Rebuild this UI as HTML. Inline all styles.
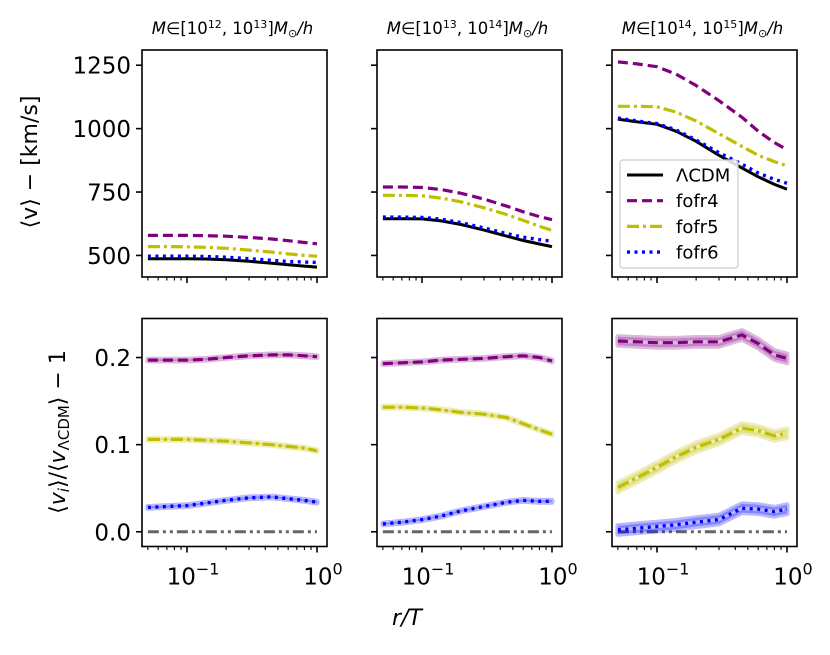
<!DOCTYPE html>
<html><head><meta charset="utf-8"><style>
body{margin:0;background:#fff;}
svg text{font-family:"DejaVu Sans","Liberation Sans",sans-serif;}
</style></head><body>
<svg id="c" width="830" height="650" viewBox="0 0 830 650" xmlns="http://www.w3.org/2000/svg"></svg>
<script>
const xs=[0.05,0.07,0.1,0.14,0.2,0.3,0.45,0.6,0.8,1.0];
const seriesNames=["LCDM","fofr4","fofr5","fofr6"];
const topLCDM=[[487,487,487,486,483,477,469,463,458,454],[645,645,644,636,622,600,576,559,545,535],[1037,1027,1017,990,950,895,845,810,780,761]];
const topF4=[[579,579,579,578,576,571,565,558,551,546],[770,770,768,760,745,722,694,672,653,641],[1263,1255,1244,1215,1170,1110,1045,990,945,917]];
const topF5=[[535,535,534,532,528,521,513,506,500,497],[737,737,735,726,711,688,661,638,615,599],[1088,1088,1086,1065,1030,980,930,895,870,853]];
const topF6=[[497,497,497,496,493,487,481,476,474,472],[651,651,650,643,629,608,586,572,562,556],[1042,1030,1020,995,955,905,860,825,800,785]];
const botF4=[[.197,.197,.197,.198,.200,.202,.203,.203,.202,.201],[.193,.194,.195,.197,.198,.199,.201,.202,.200,.196],[.219,.218,.217,.217,.218,.218,.226,.216,.203,.199]];
const botF5=[[.106,.106,.106,.105,.104,.102,.100,.098,.096,.093],[.143,.143,.142,.140,.137,.135,.131,.124,.117,.112],[.051,.062,.074,.086,.097,.106,.119,.116,.110,.113]];
const botF6=[[.028,.029,.030,.033,.036,.039,.040,.038,.036,.034],[.009,.011,.014,.018,.024,.029,.034,.036,.035,.035],[.002,.004,.006,.008,.011,.014,.027,.026,.023,.026]];
const bandW=[0.001,0.001,0.005];
const topTicks=[500,750,1000,1250];
const botTicks=[0.0,0.1,0.2];
const botTickLabels=["0.0","0.1","0.2"];

const svg=document.getElementById('c');
const NS="http://www.w3.org/2000/svg";
function mk(tag,attrs,parent){const e=document.createElementNS(NS,tag);for(const k in attrs)e.setAttribute(k,attrs[k]);(parent||svg).appendChild(e);return e;}
const lefts=[142,377,612], W=185;
const rows=[{top:50,bot:277,ymin:415,ymax:1310},{top:318.5,bot:546.5,ymin:-0.0169,ymax:0.2448}];
function xf(c,v){return lefts[c]+45+(Math.log10(v)+1)*130;}
function yf(r,v){const R=rows[r];return R.bot-(v-R.ymin)/(R.ymax-R.ymin)*(R.bot-R.top);}
const styles={LCDM:{c:"#000",d:"",w:3},fofr4:{c:"#800080",d:"10,5",w:3.2},fofr5:{c:"#bfbf00",d:"12,4,3,4",w:3.2},fofr6:{c:"#0000ff",d:"3,4.5",w:3.4}};
function path(c,r,vals){return vals.map((v,i)=>(i?'L':'M')+xf(c,xs[i]).toFixed(1)+','+yf(r,v).toFixed(1)).join(' ');}

for(let c=0;c<3;c++){
  for(let r=0;r<2;r++){
    const R=rows[r];
    const g=mk('g',{});
    
    
    const clipId='cl'+r+c;
    const cp=mk('clipPath',{id:clipId},g);mk('rect',{x:lefts[c],y:R.top,width:W,height:R.bot-R.top},cp);
    const dg=mk('g',{'clip-path':'url(#'+clipId+')'},g);
    if(r===0){
      const sets=[["LCDM",topLCDM],["fofr4",topF4],["fofr5",topF5],["fofr6",topF6]];
      sets.forEach(([n,a])=>{const s=styles[n];
        const p=mk('path',{d:path(c,0,a[c]),fill:'none',stroke:s.c,'stroke-width':s.w,'stroke-dasharray':s.d},dg);
        
        });
    } else {
      const z=mk('path',{d:'M'+xf(c,0.05)+','+yf(1,0)+' L'+xf(c,1)+','+yf(1,0),stroke:'#666','stroke-width':3,'stroke-dasharray':'11,4,3,4,3,4',fill:'none'},dg);
      
      
      const sets=[["fofr4",botF4],["fofr5",botF5],["fofr6",botF6]];
      sets.forEach(([n,a])=>{const s=styles[n];const v=a[c];const bw=bandW[c];
        let d=v.map((y,i)=>(i?'L':'M')+xf(c,xs[i]).toFixed(1)+','+yf(1,y+bw).toFixed(1)).join(' ');
        for(let i=v.length-1;i>=0;i--)d+=' L'+xf(c,xs[i]).toFixed(1)+','+yf(1,v[i]-bw).toFixed(1);
        const b=mk('path',{d:d+'Z',fill:s.c,'fill-opacity':0.28,stroke:s.c,'stroke-opacity':0.28,'stroke-width':5,'stroke-linejoin':'round'},dg);
        
        
        const p=mk('path',{d:path(c,1,v),fill:'none',stroke:s.c,'stroke-width':s.w,'stroke-dasharray':s.d},dg);
        
        });
    }
    const fr=mk('rect',{x:lefts[c],y:R.top,width:W,height:R.bot-R.top,fill:'none',stroke:'#000','stroke-width':1.6},g);
    
    
    for(let e=-2;e<=0;e++)for(let m=1;m<10;m++){const v=m*Math.pow(10,e);if(v<0.045||v>1.01)continue;
      const x=xf(c,v);const L=(m===1)?6:3.5;
      mk('line',{x1:x,x2:x,y1:R.bot,y2:R.bot+L,stroke:'#000','stroke-width':(m===1)?1.6:1.1},g);}
    if(r===1){
      [[-1,0.1],[0,1]].forEach(([e,v])=>{const t=mk('text',{x:xf(c,v)+6,y:R.bot+38,'text-anchor':'middle','font-size':23},g);
        t.textContent='10';const s=mk('tspan',{dy:-10,'font-size':16},t);s.textContent=String(e===-1?'\u22121':'0');
        
        });
    }
    const tks=r===0?topTicks:botTicks;
    tks.forEach((v,i)=>{const y=yf(r,v);mk('line',{x1:lefts[c]-6,x2:lefts[c],y1:y,y2:y,stroke:'#000','stroke-width':1.6},g);
      if(c===0){const t=mk('text',{x:lefts[c]-11,y:y+8.5,'text-anchor':'end','font-size':23},g);t.textContent=r===0?String(v):botTickLabels[i];
        
        }});
  }
  const exps=[[12,13],[13,14],[14,15]][c];
  const t=mk('text',{x:lefts[c]+W/2-2,y:34,'text-anchor':'middle','font-size':16.5});
  
  
  t.innerHTML='<tspan font-style="italic">M</tspan>∈[10<tspan dy="-6" font-size="11">'+exps[0]+'</tspan><tspan dy="6">, 10</tspan><tspan dy="-6" font-size="11">'+exps[1]+'</tspan><tspan dy="6">]</tspan><tspan font-style="italic">M</tspan><tspan dy="3" font-size="11">⊙</tspan><tspan dy="-3" font-style="italic">/h</tspan>';
}
const lg=mk('g',{});


mk('rect',{x:620,y:160,width:118,height:108,rx:3,fill:'#fff','fill-opacity':0.85,stroke:'#ccc','stroke-width':1.2},lg);
const labs=["ΛCDM","fofr4","fofr5","fofr6"];
seriesNames.forEach((n,i)=>{const s=styles[n];const y=175+i*25.7;
  mk('line',{x1:627,x2:663,y1:y,y2:y,stroke:s.c,'stroke-width':s.w,'stroke-dasharray':s.d},lg);
  const t=mk('text',{x:676,y:y+6.5,'font-size':18},lg);t.textContent=labs[i];
  
  });
const yl1=mk('text',{x:0,y:0,'font-size':22,'text-anchor':'middle',transform:'translate(37,162) rotate(-90)'});
yl1.textContent='⟨v⟩ − [km/s]';


const yl2=mk('text',{x:0,y:0,'font-size':22,'text-anchor':'middle',transform:'translate(65,432) rotate(-90)'});
yl2.innerHTML='⟨<tspan font-style="italic">v</tspan><tspan font-style="italic" font-size="15" dy="4">i</tspan><tspan dy="-4">⟩/⟨</tspan><tspan font-style="italic">v</tspan><tspan font-size="15" dy="4">ΛCDM</tspan><tspan dy="-4">⟩ − 1</tspan>';


const xl=mk('text',{x:407,y:625,'font-size':22,'text-anchor':'middle','font-style':'italic'});
xl.textContent='r/T';


</script>
</body></html>
